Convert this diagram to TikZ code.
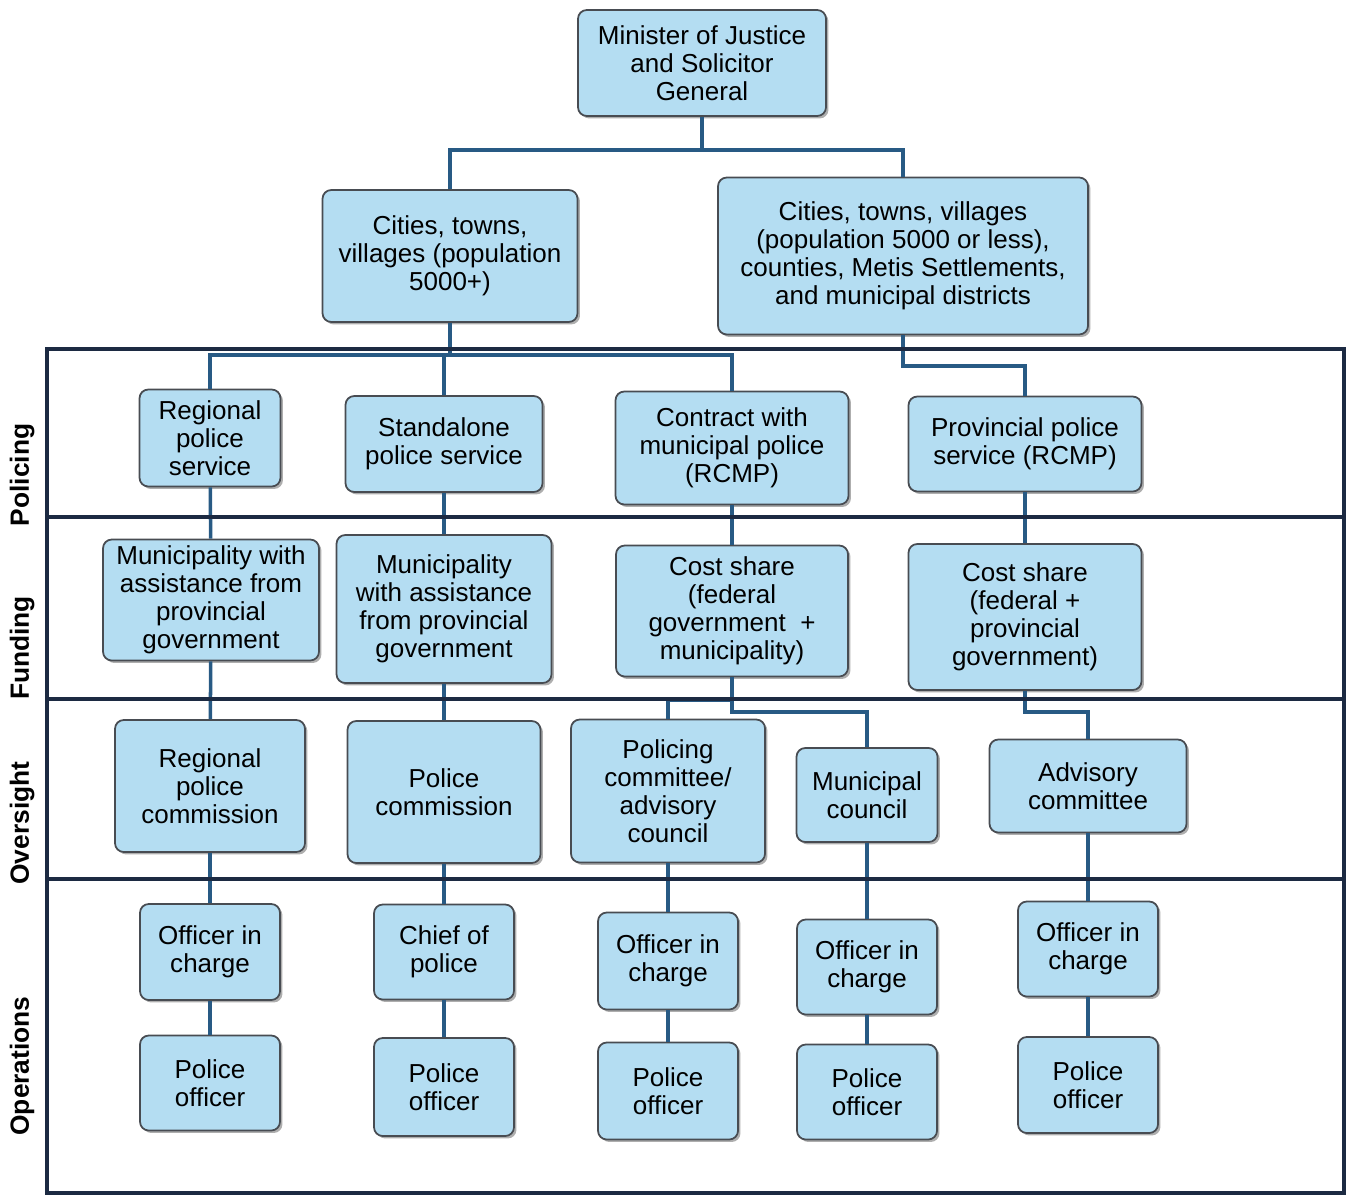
\documentclass[tikz,border=0pt]{standalone}
\usepackage{fontspec}
\setmainfont{Liberation Sans}
\usetikzlibrary{shadows}
\definecolor{boxfill}{RGB}{180,221,242}
\definecolor{boxedge}{RGB}{72,76,82}
\definecolor{linkblue}{RGB}{40,90,132}
\definecolor{lanenavy}{RGB}{28,42,66}
\tikzset{
    box/.style 2 args={draw=boxedge, line width=1pt, fill=boxfill, rounded corners=5pt,
        align=center, inner sep=1pt, font=\fontsize{14.8}{15.9}\selectfont,
        minimum width=#1*0.02cm, minimum height=#2*0.02cm,
        drop shadow={shadow xshift=1.4pt, shadow yshift=-1.4pt, opacity=0.45, fill=black!70}},
    link/.style={draw=linkblue, line width=2pt},
    lane/.style={draw=lanenavy, line width=2.4pt},
    lanelabel/.style={rotate=90, font=\fontsize{15}{18}\selectfont\bfseries},
}

\begin{document}
\begin{tikzpicture}[x=0.02cm, y=-0.02cm]
            \useasboundingbox (0,0) rectangle (1351,1196);

            % top of the chart
            \node[box={248}{106}] (minister) at (702,63) {Minister of Justice\\and Solicitor\\General};
            \node[box={255}{132}] (cities) at (450,256) {Cities, towns,\\villages (population\\5000+)};
            \node[box={370}{157}] (villages) at (903,256) {Cities, towns, villages\\(population 5000 or less),\\counties, Metis Settlements,\\and municipal districts};

            % policing
            \node[box={141}{97}] (regsvc) at (210,438) {Regional\\police\\service};
            \node[box={197}{96}] (standalone) at (444,444) {Standalone\\police service};
            \node[box={233}{113}] (contract) at (732,448) {Contract with\\municipal police\\(RCMP)};
            \node[box={233}{95}] (provsvc) at (1025,444) {Provincial police\\service (RCMP)};

            % funding
            \node[box={216}{121}] (muniA) at (211,600) {Municipality with\\assistance from\\provincial\\government};
            \node[box={215}{148}] (muniB) at (444,609) {Municipality\\with assistance\\from provincial\\government};
            \node[box={232}{131}] (costA) at (732,611) {Cost share\\(federal\\government~~+\\municipality)};
            \node[box={233}{146}] (costB) at (1025,617) {Cost share\\(federal +\\provincial\\government)};

            % oversight
            \node[box={190}{132}] (regcom) at (210,786) {Regional\\police\\commission};
            \node[box={193}{142}] (polcom) at (444,792) {Police\\commission};
            \node[box={194}{143}] (committee) at (668,791) {Policing\\committee/\\advisory\\council};
            \node[box={141}{94}] (council) at (867,795) {Municipal\\council};
            \node[box={197}{93}] (advisory) at (1088,786) {Advisory\\committee};

            % operations
            \node[box={140}{96}] (oicA) at (210,952) {Officer in\\charge};
            \node[box={140}{95}] (chief) at (444,952) {Chief of\\police};
            \node[box={140}{97}] (oicB) at (668,961) {Officer in\\charge};
            \node[box={140}{95}] (oicC) at (867,967) {Officer in\\charge};
            \node[box={140}{95}] (oicD) at (1088,949) {Officer in\\charge};

            \node[box={140}{95}] (poA) at (210,1083) {Police\\officer};
            \node[box={140}{98}] (poB) at (444,1087) {Police\\officer};
            \node[box={140}{97}] (poC) at (668,1091) {Police\\officer};
            \node[box={140}{95}] (poD) at (867,1092) {Police\\officer};
            \node[box={140}{96}] (poE) at (1088,1085) {Police\\officer};

            % connectors
            \coordinate (split) at (702,150);
            \coordinate (bigbar) at (450,355);
            \coordinate (smallbar) at (903,366);
            \coordinate (costsplit) at (732,712);
            \coordinate (advsplit) at (1025,712);

            \draw[link] (minister.south) -- (split);
            \draw[link] (split) -| (cities.north);
            \draw[link] (split) -| (villages.north);

            \draw[link] (cities.south) -- (bigbar);
            \draw[link] (bigbar) -| (regsvc.north);
            \draw[link] (bigbar) -| (contract.north);
            \draw[link] (standalone.north) -- (standalone.north |- bigbar);
            \draw[link] (villages.south) -- (smallbar) -| (provsvc.north);

            \draw[link] (regsvc) -- (muniA);
            \draw[link] (standalone) -- (muniB);
            \draw[link] (contract) -- (costA);
            \draw[link] (provsvc) -- (costB);

            \draw[link] (muniA) -- (regcom);
            \draw[link] (muniB) -- (polcom);
            \draw[link] (costA.south) -- (costsplit) -| (council.north);
            \draw[link] (costA.south |- 0,700) -| (committee.north);
            \draw[link] (costB.south) -- (advsplit) -| (advisory.north);

            \draw[link] (regcom) -- (oicA);
            \draw[link] (polcom) -- (chief);
            \draw[link] (committee) -- (oicB);
            \draw[link] (council) -- (oicC);
            \draw[link] (advisory) -- (oicD);

            \draw[link] (oicA) -- (poA);
            \draw[link] (chief) -- (poB);
            \draw[link] (oicB) -- (poC);
            \draw[link] (oicC) -- (poD);
            \draw[link] (oicD) -- (poE);

            % lanes
            \draw[lane] (47,349) rectangle (1344,1193);
            \draw[lane] (47,517) -- (1344,517);
            \draw[lane] (47,699) -- (1344,699);
            \draw[lane] (47,879) -- (1344,879);
            \node[lanelabel] (policing) at (22,475) {Policing};
            \node[lanelabel] (funding) at (22,648) {Funding};
            \node[lanelabel] (oversight) at (22,823) {Oversight};
            \node[lanelabel] (operations) at (22,1066) {Operations};
        \end{tikzpicture}
\end{document}
